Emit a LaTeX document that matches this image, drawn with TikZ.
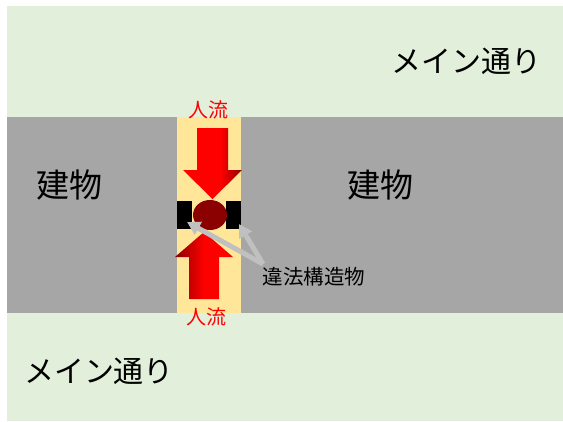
\documentclass[tikz,border=0pt]{standalone}
\usepackage{fontspec}
\setmainfont{Noto Sans CJK JP}
\usetikzlibrary{arrows.meta}
\definecolor{bggreen}{HTML}{E2EFDA}
\definecolor{bldgray}{HTML}{A6A6A6}
\definecolor{lane}{HTML}{FFE699}
\definecolor{dred}{HTML}{8B0000}
\definecolor{ptrgray}{HTML}{C0C0C0}
\pgfdeclarehorizontalshading{downshade}{100bp}{color(0bp)=(red); color(57bp)=(red); color(75bp)=(dred); color(100bp)=(dred)}
\pgfdeclarehorizontalshading{upshade}{100bp}{color(0bp)=(dred); color(25bp)=(dred); color(50bp)=(red); color(100bp)=(red)}
\tikzset{
  bigtxt/.style={inner sep=0pt, font=\fontsize{30}{30}\selectfont},
  bldtxt/.style={inner sep=0pt, font=\fontsize{33}{33}\selectfont},
  flowtxt/.style={inner sep=0pt, text=red, font=\fontsize{20}{20}\selectfont},
  lbltxt/.style={inner sep=0pt, font=\fontsize{20.5}{20.5}\selectfont},
  block/.style={fill=black, inner sep=0pt, minimum width=15pt, minimum height=28pt},
  pointer/.style={ptrgray, line width=5pt, -{Triangle[length=13pt,width=14pt]}}
}
\begin{document}
\begin{tikzpicture}[x=1pt,y=-1pt]
\useasboundingbox (0,0) rectangle (563,421);
\fill[white] (0,0) rectangle (563,421);
\fill[bggreen] (7,6) rectangle (563,421);
\fill[bldgray] (7,117) rectangle (563,313);
\fill[lane] (177,117) rectangle (241,313);

% arrows of people flow
\shade[shading=downshade] (197,128) -- (228,128) -- (228,170) -- (242,170) -- (212.5,199) -- (183,170) -- (197,170) -- cycle;
\shade[shading=upshade] (189,299) -- (219,299) -- (219,257) -- (233,257) -- (204,232) -- (175,257) -- (189,257) -- cycle;

% structures
\node[block] (bl) at (184.5,215) {};
\node[block] (br) at (233.5,215) {};
\fill[dred] (210,215) ellipse [x radius=17, y radius=15];

% texts
\node[bigtxt] (road1) at (466,61) {メイン通り};
\node[bigtxt] (road2) at (99,371) {メイン通り};
\node[bldtxt] (bld1) at (69,185) {建物};
\node[bldtxt] (bld2) at (380,185) {建物};
\node[flowtxt] (flow1) at (208,110) {人流};
\node[flowtxt] (flow2) at (206,317) {人流};
\node[lbltxt] (lbl) at (314,277) {違法構造物};

% pointers
\coordinate (src) at (263,264);
\coordinate (tipl) at (187,222);
\coordinate (tipr) at (239,224);
\draw[pointer] (src) -- (tipl);
\draw[pointer] (src) -- (tipr);
\end{tikzpicture}
\end{document}
